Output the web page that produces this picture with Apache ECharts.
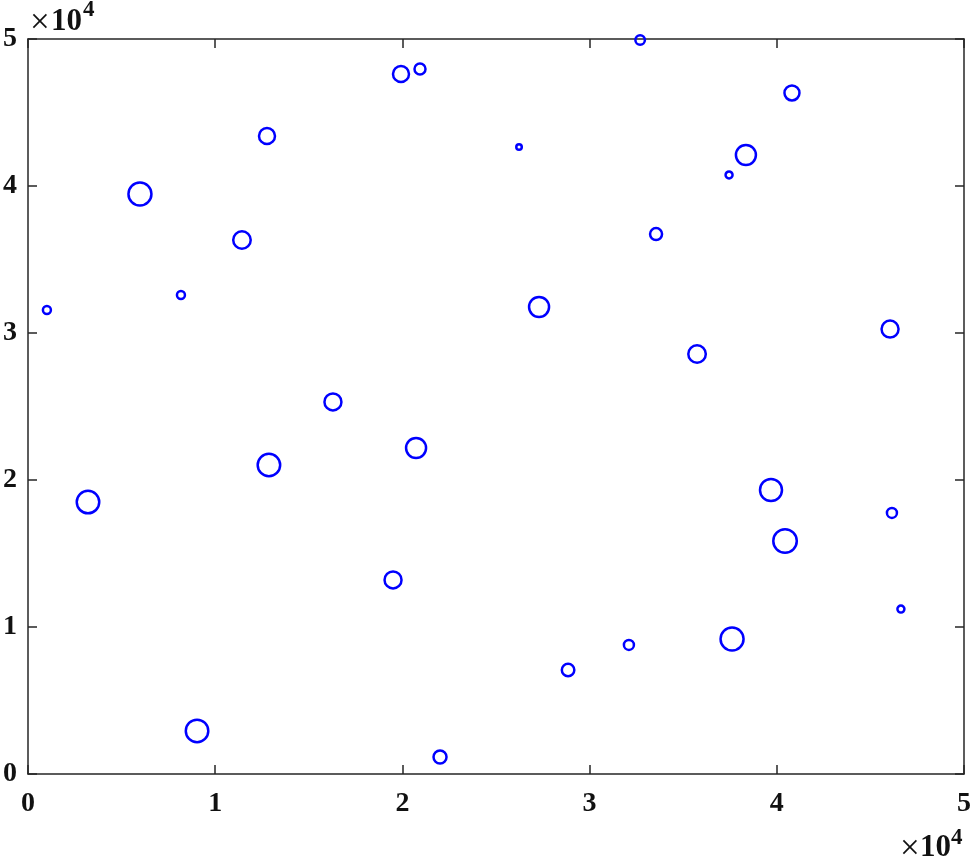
<!DOCTYPE html>
<html>
<head>
<meta charset="utf-8">
<script src="https://cdn.jsdelivr.net/npm/echarts@6/dist/echarts.min.js"></script>
<style>html,body{margin:0;padding:0;background:#fff}#c{width:974px;height:862px}</style>
</head>
<body>
<div id="c"></div>
<script>
// x values
const xVals = [32700, 19925, 20940, 40810, 12767, 26230, 38350, 37450, 5980, 33550,
  11430, 8170, 1010, 27300, 46050, 35740, 16290, 20730, 12870, 3205,
  39690, 46150, 40440, 19500, 46630, 32100, 37610, 28850, 9030, 22010];
// y values
const yVals = [49930, 47620, 47960, 46330, 43400, 42650, 42110, 40750, 39460, 36730,
  36330, 32590, 31560, 31770, 30270, 28570, 25310, 22180, 21020, 18500,
  19320, 17760, 15850, 13200, 11220, 8780, 9180, 7070, 2930, 1160];
// marker size values
const sizeVals = [9.5, 16, 11, 15, 16, 5.5, 20, 7, 23, 12,
  17.5, 8, 8, 20, 17, 17.5, 17, 20, 22.5, 22.5,
  22, 10, 23.5, 17, 7, 10, 23, 12.5, 22.5, 13];
const xTicks = [0, 1, 2, 3, 4, 5];
const yTicks = [0, 1, 2, 3, 4, 5];
const expTimes = '\u00d7';
const expBase = '10';
const expPow = '4';

const data = xVals.map((x, i) => [x, yVals[i], sizeVals[i]]);
const chart = echarts.init(document.getElementById('c'));
const font = 'Liberation Serif';
const txtColor = '#111';
const axisLineStyle = { color: '#262626', width: 1.5 };
const baseAxis = {
  min: 0, max: 50000, interval: 10000,
  axisLine: { show: true, onZero: false, lineStyle: axisLineStyle },
  axisTick: { show: true, inside: true, length: 9, lineStyle: axisLineStyle },
  splitLine: { show: false }
};
function t(x, y, text, size, weight) {
  return { type: 'text', silent: true, x: x, y: y, style: { text: text,
    fontFamily: font, fontSize: size, fontWeight: weight, fill: txtColor,
    align: 'left', verticalAlign: 'middle' } };
}
chart.setOption({
  animation: false,
  backgroundColor: '#fff',
  grid: { left: 28, right: 10, top: 39, bottom: 88, containLabel: false },
  xAxis: [
    Object.assign({}, baseAxis, { type: 'value', position: 'bottom',
      axisLabel: { show: true, margin: 16, fontFamily: font, fontWeight: 'bold', fontSize: 28, color: txtColor,
        formatter: v => String(xTicks[Math.round(v / 10000)]) } }),
    Object.assign({}, baseAxis, { type: 'value', position: 'top', axisLabel: { show: false } })
  ],
  yAxis: [
    Object.assign({}, baseAxis, { type: 'value', position: 'left',
      axisLabel: { show: true, margin: 11, fontFamily: font, fontWeight: 'bold', fontSize: 28, color: txtColor,
        formatter: v => String(yTicks[Math.round(v / 10000)]) } }),
    Object.assign({}, baseAxis, { type: 'value', position: 'right', axisLabel: { show: false } })
  ],
  graphic: [
    t(30, 24, expTimes, 35, 'normal'),
    t(51, 22, expBase, 31, 'bold'),
    t(83, 10, expPow, 23, 'bold'),
    t(900, 850, expTimes, 35, 'normal'),
    t(920, 848, expBase, 31, 'bold'),
    t(951, 838, expPow, 23, 'bold')
  ],
  series: [{
    type: 'scatter',
    data: data,
    symbol: 'circle',
    symbolSize: d => d[2],
    itemStyle: { color: 'rgba(0,0,0,0)', borderColor: '#0000ff', borderWidth: 2.5, opacity: 1 },
    emphasis: { disabled: true }
  }]
});
</script>
</body>
</html>
